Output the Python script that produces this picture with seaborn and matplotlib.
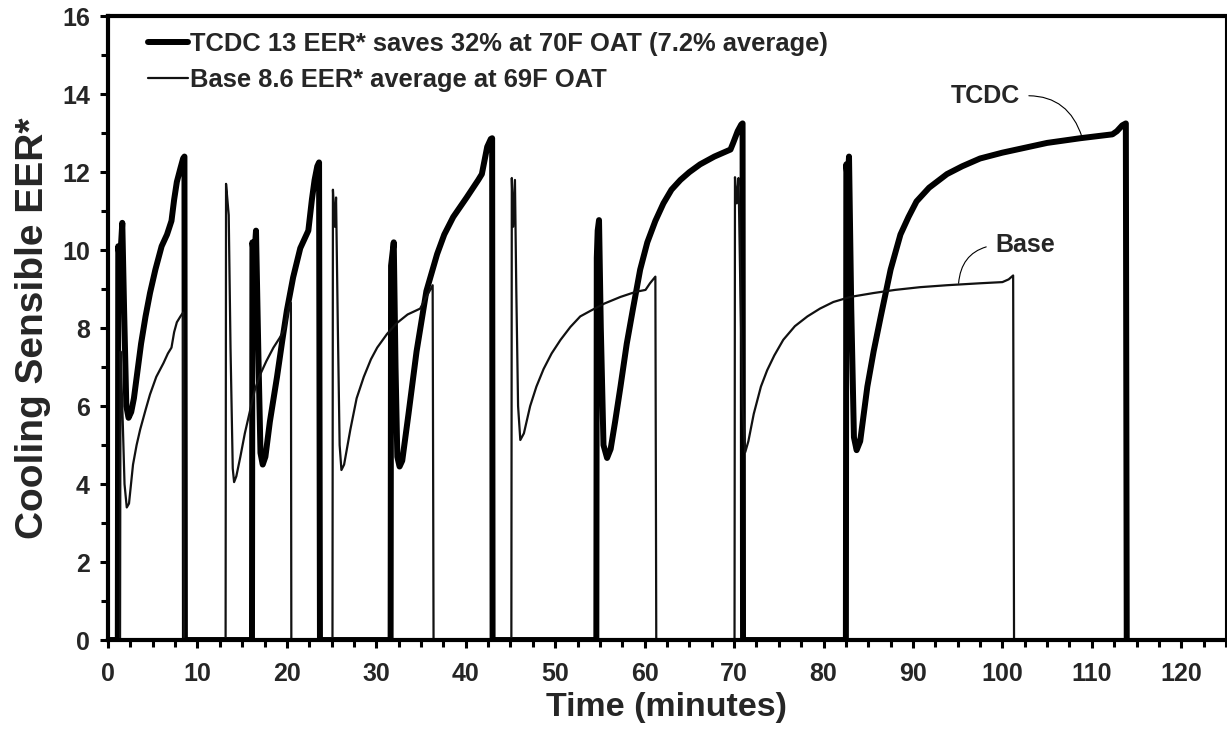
import seaborn as sns
import matplotlib.pyplot as plt
from matplotlib.ticker import MultipleLocator

# TCDC test: time (minutes) and cooling sensible EER*
tcdc_time = [0, 1.1, 1.15, 1.35, 1.6, 1.8, 2.05, 2.3, 2.6, 2.9, 3.3, 3.7, 4.2, 4.7, 5.3, 6.0, 6.6, 7.1, 7.4, 7.7, 8.1, 8.4, 8.55, 8.6,
             16.1, 16.15, 16.35, 16.55, 16.8, 17.05, 17.3, 17.6, 18.1, 18.9, 19.5, 20.0, 20.7, 21.5, 22.0, 22.4, 22.8, 23.1, 23.4, 23.6, 23.7,
             31.6, 31.65, 31.8, 31.95, 32.15, 32.35, 32.6, 32.9, 33.6, 34.5, 35.6, 36.8, 37.6, 38.6, 40.1, 41.4, 41.8, 42.1, 42.4, 42.8, 42.95, 43.0,
             54.6, 54.65, 54.75, 54.9, 55.1, 55.4, 55.8, 56.2, 56.7, 57.3, 58.0, 58.7, 59.5, 60.3, 61.2, 62.1, 63.0, 64.0, 65.0, 66.2, 67.8, 69.6, 69.9, 70.4, 70.8, 70.95, 71.0,
             82.5, 82.55, 82.7, 82.85, 83.1, 83.4, 83.7, 84.1, 84.9, 85.6, 86.4, 87.5, 88.6, 89.5, 90.4, 91.8, 93.8, 95.5, 97.5, 100.0, 102.0, 105.0, 108.7, 112.3, 112.8, 113.4, 113.8, 113.9]
tcdc_eer = [0, 0, 10.1, 9.7, 10.7, 8.5, 6.0, 5.7, 5.85, 6.2, 6.9, 7.6, 8.3, 8.9, 9.5, 10.1, 10.4, 10.75, 11.3, 11.75, 12.1, 12.35, 12.4, 0,
            0, 10.2, 9.8, 10.5, 7.5, 4.8, 4.5, 4.7, 5.6, 6.75, 7.7, 8.45, 9.3, 10.05, 10.3, 10.5, 11.3, 11.8, 12.15, 12.25, 0,
            0, 9.6, 9.9, 10.2, 7.0, 4.7, 4.45, 4.6, 5.8, 7.4, 8.95, 9.9, 10.4, 10.85, 11.35, 11.8, 11.95, 12.3, 12.65, 12.85, 12.87, 0,
            0, 9.8, 10.5, 10.77, 8.0, 5.0, 4.67, 4.9, 5.6, 6.5, 7.6, 8.5, 9.5, 10.2, 10.75, 11.2, 11.55, 11.8, 12.0, 12.2, 12.4, 12.58, 12.75, 13.05, 13.22, 13.25, 0,
            0, 12.2, 11.8, 12.4, 8.5, 5.2, 4.87, 5.1, 6.5, 7.4, 8.3, 9.5, 10.4, 10.85, 11.25, 11.6, 11.95, 12.15, 12.35, 12.5, 12.6, 12.75, 12.87, 12.97, 13.05, 13.2, 13.25, 0]

# Base test
base_time = [0, 1.35, 1.4, 1.6, 1.85, 2.1, 2.35, 2.8, 3.2, 3.6, 4.2, 4.7, 5.4, 6.2, 6.7, 7.1, 7.4, 7.7, 8.1, 8.4, 8.5,
             13.15, 13.2, 13.35, 13.5, 13.7, 13.95, 14.1, 14.35, 14.8, 15.3, 15.9, 16.4, 17.0, 17.7, 18.5, 19.2, 19.8, 20.2, 20.45, 20.5,
             25.1, 25.15, 25.35, 25.5, 25.7, 25.9, 26.1, 26.4, 27.1, 27.8, 28.6, 29.4, 30.1, 31.2, 32.3, 33.5, 34.9, 35.6, 36.3, 36.4,
             45.1, 45.15, 45.3, 45.5, 45.65, 45.85, 46.1, 46.5, 47.2, 47.9, 48.7, 49.6, 50.6, 51.7, 52.8, 54.0, 55.5, 57.3, 59.0, 60.1, 60.6, 61.2, 61.3,
             70.05, 70.1, 70.3, 70.5, 70.7, 70.95, 71.25, 71.6, 72.2, 73.0, 73.7, 74.5, 75.5, 76.8, 78.2, 79.6, 81.1, 83.0, 85.6, 88.0, 90.8, 93.8, 97.5, 100.0, 100.7, 101.2, 101.3]
base_eer = [0, 0, 7.4, 6.0, 4.0, 3.4, 3.5, 4.5, 5.0, 5.4, 5.9, 6.3, 6.75, 7.1, 7.35, 7.5, 7.9, 8.15, 8.3, 8.4, 0,
            0, 11.7, 11.3, 10.9, 7.5, 4.4, 4.05, 4.2, 4.7, 5.3, 5.9, 6.4, 6.8, 7.15, 7.5, 7.75, 8.0, 8.5, 8.65, 0,
            0, 11.55, 10.6, 11.35, 8.0, 5.0, 4.36, 4.5, 5.4, 6.2, 6.75, 7.2, 7.5, 7.85, 8.13, 8.35, 8.5, 8.8, 9.1, 0,
            0, 11.85, 10.6, 11.8, 9.0, 6.0, 5.13, 5.3, 6.0, 6.5, 6.95, 7.35, 7.7, 8.03, 8.3, 8.45, 8.63, 8.8, 8.93, 8.98, 9.15, 9.32, 0,
            0, 11.87, 11.2, 11.85, 9.0, 6.0, 4.82, 5.1, 5.8, 6.5, 6.92, 7.3, 7.7, 8.05, 8.3, 8.5, 8.67, 8.8, 8.9, 8.98, 9.05, 9.1, 9.15, 9.18, 9.25, 9.35, 0]

tcdc_label = "TCDC 13 EER* saves 32% at 70F OAT (7.2% average)"
base_label = "Base 8.6 EER* average at 69F OAT"

sns.set_style("white")
plt.rcParams['font.family'] = ['Liberation Sans', 'DejaVu Sans']
plt.rcParams['font.weight'] = 'bold'

fig = plt.figure(figsize=(12.27, 7.36), dpi=100)
ax = fig.add_axes([0.088, 0.1304, 0.9112, 0.8476])

sns.lineplot(x=tcdc_time, y=tcdc_eer, estimator=None, sort=False, ax=ax,
             color='black', linewidth=4.3, label=tcdc_label)
sns.lineplot(x=base_time, y=base_eer, estimator=None, sort=False, ax=ax,
             color='#111111', linewidth=1.6, label=base_label)

ax.set_xlim(0, 125)
ax.set_ylim(0, 16)
ax.xaxis.set_major_locator(MultipleLocator(10))
ax.xaxis.set_minor_locator(MultipleLocator(2.5))
ax.yaxis.set_major_locator(MultipleLocator(2))
ax.yaxis.set_minor_locator(MultipleLocator(1))

for side in ['left', 'bottom', 'top']:
    ax.spines[side].set_linewidth(3)
    ax.spines[side].set_color('black')
ax.spines['right'].set_linewidth(1.5)
ax.spines['right'].set_color('black')

ax.tick_params(which='both', direction='out', color='black', width=2.2,
               bottom=True, left=True, top=False, right=False)
ax.tick_params(which='major', length=6, labelsize=18)
ax.tick_params(axis='x', which='major', pad=10)
ax.tick_params(axis='y', which='major', pad=7)
ax.tick_params(which='minor', length=5)
for lab in ax.get_xticklabels() + ax.get_yticklabels():
    lab.set_fontweight('bold')

ax.set_xlabel("Time (minutes)", fontsize=24.5, fontweight='bold', labelpad=4)
ax.set_ylabel("Cooling Sensible EER*", fontsize=28, fontweight='bold', labelpad=8)

leg = ax.legend(loc='upper left', bbox_to_anchor=(0.036, 0.975), frameon=False,
                fontsize=18.4, handlelength=1.55, handletextpad=0.1,
                borderpad=0, borderaxespad=0, labelspacing=0.47)
for t in leg.get_texts():
    t.set_fontweight('bold')

ax.annotate("TCDC", xy=(108.9, 12.9), xytext=(98.1, 13.95), fontsize=18,
            fontweight='bold', ha='center', va='center',
            arrowprops=dict(arrowstyle='-', color='black', lw=0.8, relpos=(1.0, 0.5),
                            shrinkA=4, shrinkB=0, connectionstyle='arc3,rad=-0.4'))
ax.annotate("Base", xy=(95.1, 9.15), xytext=(102.5, 10.13), fontsize=18,
            fontweight='bold', ha='center', va='center',
            arrowprops=dict(arrowstyle='-', color='black', lw=0.8, relpos=(0.0, 0.5),
                            shrinkA=4, shrinkB=0, connectionstyle='arc3,rad=0.4'))

fig.savefig("out.png", dpi=100)
